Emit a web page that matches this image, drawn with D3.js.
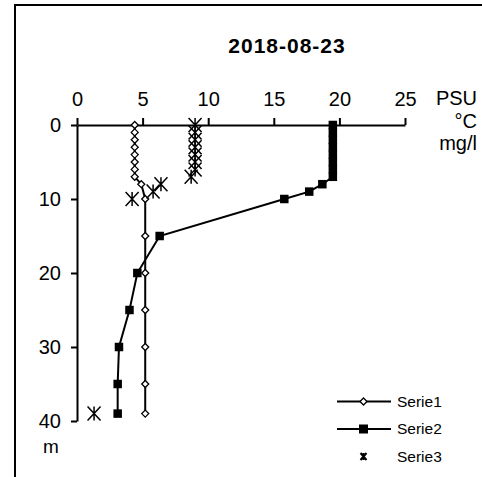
<!DOCTYPE html>
<html>
<head>
<meta charset="utf-8">
<script src="https://cdn.jsdelivr.net/npm/d3@7"></script>
<style>
  body { margin: 0; background: #fff; }
  svg { display: block; font-family: Arial, "Liberation Sans", sans-serif; }
</style>
</head>
<body>
<div id="chart"></div>
<script>
// depth (m) and values
var depth1 = [0, 1, 2, 3, 4, 5, 6, 7, 8, 10, 15, 20, 25, 30, 35, 39];
var serie1 = [4.4, 4.4, 4.4, 4.4, 4.4, 4.4, 4.4, 4.4, 4.9, 5.2, 5.2, 5.2, 5.2, 5.2, 5.2, 5.2];

var depth2 = [0, 1, 2, 3, 4, 5, 6, 7, 8, 9, 10, 15, 20, 25, 30, 35, 39];
var serie2 = [19.5, 19.5, 19.5, 19.5, 19.5, 19.5, 19.5, 19.5, 18.7, 17.7, 15.8, 6.3, 4.6, 4.0, 3.2, 3.1, 3.1];

var depth3 = [0, 1, 2, 3, 4, 5, 6, 7, 8, 9, 10, 39];
var serie3 = [9.0, 9.0, 9.0, 9.0, 9.0, 9.0, 9.0, 8.7, 6.4, 5.8, 4.2, 1.3];

var xTicks = [0, 5, 10, 15, 20, 25];
var yTicks = [0, 10, 20, 30, 40];
var unitLabels = ["PSU", "°C", "mg/l"];
var seriesNames = ["Serie1", "Serie2", "Serie3"];

var width = 482;
var height = 477;

var svg = d3.select("#chart").append("svg")
    .attr("width", width)
    .attr("height", height);

// chart area border (right and bottom edges fall outside the picture)
svg.append("rect")
    .attr("x", 15)
    .attr("y", 5)
    .attr("width", 500)
    .attr("height", 500)
    .style("fill", "none")
    .style("stroke", "#000")
    .style("stroke-width", 2);

svg.append("text")
    .attr("x", 287)
    .attr("y", 53)
    .attr("text-anchor", "middle")
    .style("font-weight", "bold")
    .style("font-size", "21px")
    .style("letter-spacing", "1px")
    .text("2018-08-23");

var x = d3.scaleLinear()
    .domain([0, 25])
    .range([77, 405]);

var y = d3.scaleLinear()
    .domain([0, 40])
    .range([125, 421]);

var xAxis = svg.append("g")
    .attr("transform", "translate(0," + y(0) + ")")
    .call(d3.axisTop(x)
        .tickValues(xTicks)
        .tickSize(7)
        .tickSizeOuter(0)
        .tickPadding(12));

var yAxis = svg.append("g")
    .attr("transform", "translate(" + x(0) + ",0)")
    .call(d3.axisLeft(y)
        .tickValues(yTicks)
        .tickSize(6)
        .tickSizeOuter(0)
        .tickPadding(10));

[xAxis, yAxis].forEach(function(a) {
    a.select(".domain").style("stroke", "#000").style("stroke-width", 2);
    a.selectAll(".tick line").style("stroke", "#000").style("stroke-width", 2);
    a.selectAll(".tick text")
        .style("font-family", "Arial, 'Liberation Sans', sans-serif")
        .style("font-size", "20px")
        .style("fill", "#000");
});

// unit labels
unitLabels.forEach(function(u, i) {
    svg.append("text")
        .attr("x", 477)
        .attr("y", 105 + i * 22.5)
        .attr("text-anchor", "end")
        .style("font-size", "20px")
        .text(u);
});

svg.append("text")
    .attr("x", 51)
    .attr("y", 446)
    .attr("dy", "0.35em")
    .attr("text-anchor", "middle")
    .style("font-size", "19px")
    .text("m");

var line = d3.line()
    .x(function(d) { return x(d[0]); })
    .y(function(d) { return y(d[1]); });

var pts1 = serie1.map(function(v, i) { return [v, depth1[i]]; });
var pts2 = serie2.map(function(v, i) { return [v, depth2[i]]; });
var pts3 = serie3.map(function(v, i) { return [v, depth3[i]]; });

function diamond(g, cx, cy, r) {
    g.append("path")
        .attr("d", "M" + cx + "," + (cy - r) + "L" + (cx + r) + "," + cy +
            "L" + cx + "," + (cy + r) + "L" + (cx - r) + "," + cy + "Z")
        .style("fill", "#fff")
        .style("stroke", "#000")
        .style("stroke-width", 1.3);
}

function square(g, cx, cy, s) {
    g.append("rect")
        .attr("x", cx - s / 2)
        .attr("y", cy - s / 2)
        .attr("width", s)
        .attr("height", s)
        .style("fill", "#000");
}

function star(g, cx, cy, w, h, sw) {
    g.append("path")
        .attr("d", "M" + (cx - w) + "," + (cy - h) + "L" + (cx + w) + "," + (cy + h) +
            "M" + (cx + w) + "," + (cy - h) + "L" + (cx - w) + "," + (cy + h) +
            "M" + cx + "," + (cy - h) + "L" + cx + "," + (cy + h))
        .style("fill", "none")
        .style("stroke", "#000")
        .style("stroke-width", sw);
}

// Serie1
var s1 = svg.append("g");
s1.append("path")
    .datum(pts1)
    .attr("d", line)
    .style("fill", "none")
    .style("stroke", "#000")
    .style("stroke-width", 2);
pts1.forEach(function(p) { diamond(s1, x(p[0]), y(p[1]), 3.5); });

// Serie2
var s2 = svg.append("g");
s2.append("path")
    .datum(pts2)
    .attr("d", line)
    .style("fill", "none")
    .style("stroke", "#000")
    .style("stroke-width", 2);
pts2.forEach(function(p) { square(s2, x(p[0]), y(p[1]), 8.5); });

// Serie3 (markers only)
var s3 = svg.append("g");
pts3.forEach(function(p) { star(s3, x(p[0]), y(p[1]), 6.5, 7, 1.5); });

// legend
var legend = svg.append("g");
seriesNames.forEach(function(name, i) {
    var ly = 401.5 + i * 27.5;
    if (i < 2) {
        legend.append("line")
            .attr("x1", 337).attr("x2", 391)
            .attr("y1", ly).attr("y2", ly)
            .style("stroke", "#000")
            .style("stroke-width", 2);
    }
    if (i === 0) diamond(legend, 363.5, ly, 3.5);
    if (i === 1) square(legend, 363.5, ly, 9);
    if (i === 2) star(legend, 363.5, ly, 3, 3.5, 2);
    legend.append("text")
        .attr("x", 397)
        .attr("y", ly)
        .attr("dy", "0.35em")
        .style("font-size", "15.5px")
        .text(name);
});
</script>
</body>
</html>
